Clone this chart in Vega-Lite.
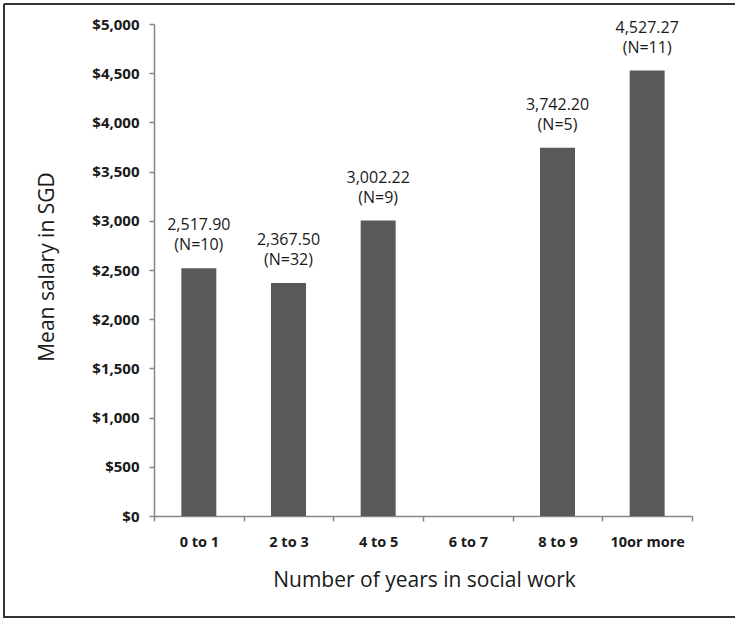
{
  "$schema": "https://vega.github.io/schema/vega-lite/v6.json",
  "width": 731,
  "height": 613,
  "autosize": {"type": "none"},
  "padding": {"left": 4, "top": 4, "right": 0, "bottom": 2},
  "background": "white",
  "config": {
    "font": "Open Sans",
    "view": {"stroke": "#333333", "strokeWidth": 2, "strokeDash": [731, 613, 1344, 0]}
  },
  "data": {
    "values": [
      {"years": "0 to 1", "salary": 2517.90, "n": 10},
      {"years": "2 to 3", "salary": 2367.50, "n": 32},
      {"years": "4 to 5", "salary": 3002.22, "n": 9},
      {"years": "8 to 9", "salary": 3742.20, "n": 5},
      {"years": "10or more", "salary": 4527.27, "n": 11}
    ]
  },
  "transform": [
    {"calculate": "format(datum.salary, ',.2f') + '\\n(N=' + datum.n + ')'", "as": "label"}
  ],
  "encoding": {
    "x": {
      "field": "years",
      "type": "nominal",
      "sort": null,
      "scale": {
        "domain": ["0 to 1", "2 to 3", "4 to 5", "6 to 7", "8 to 9", "10or more"],
        "range": [150, 688],
        "paddingInner": 0,
        "paddingOuter": 0
      },
      "axis": {
        "title": "Number of years in social work",
        "orient": "bottom",
        "offset": -101,
        "tickBand": "extent",
        "labelAngle": 0,
        "grid": false,
        "domainColor": "#868686",
        "domainWidth": 1.5,
        "tickColor": "#868686",
        "tickWidth": 1.5,
        "tickSize": 5,
        "labelPadding": 14,
        "labelFont": "Open Sans",
        "labelFontWeight": "bold",
        "labelFontSize": 14.5,
        "labelColor": "#1a1a1a",
        "titleFont": "Open Sans",
        "titleFontWeight": "normal",
        "titleFontSize": 21,
        "titleColor": "#1a1a1a",
        "titleX": 420,
        "titleY": 70,
        "titleBaseline": "alphabetic"
      }
    },
    "y": {
      "field": "salary",
      "type": "quantitative",
      "scale": {"domain": [0, 5000], "range": [512, 20], "nice": false},
      "axis": {
        "title": "Mean salary in SGD",
        "orient": "left",
        "offset": -150,
        "values": [0, 500, 1000, 1500, 2000, 2500, 3000, 3500, 4000, 4500, 5000],
        "format": "$,.0f",
        "grid": false,
        "domainColor": "#868686",
        "domainWidth": 1.5,
        "tickColor": "#868686",
        "tickWidth": 1.5,
        "tickSize": 5,
        "labelPadding": 10,
        "labelFont": "Open Sans",
        "labelFontWeight": "bold",
        "labelFontSize": 15,
        "labelColor": "#1a1a1a",
        "titleFont": "Open Sans",
        "titleFontWeight": "normal",
        "titleFontSize": 21,
        "titleColor": "#1a1a1a",
        "titleAngle": 270,
        "titleX": -101,
        "titleY": 262.5,
        "titleBaseline": "alphabetic"
      }
    }
  },
  "layer": [
    {"mark": {"type": "bar", "color": "#595959", "width": {"band": 0.39}}},
    {
      "mark": {
        "type": "text",
        "lineBreak": "\n",
        "baseline": "alphabetic",
        "dy": -38,
        "fontSize": 16,
        "lineHeight": 20,
        "color": "#1a1a1a"
      },
      "encoding": {"text": {"field": "label", "type": "nominal"}}
    }
  ]
}
